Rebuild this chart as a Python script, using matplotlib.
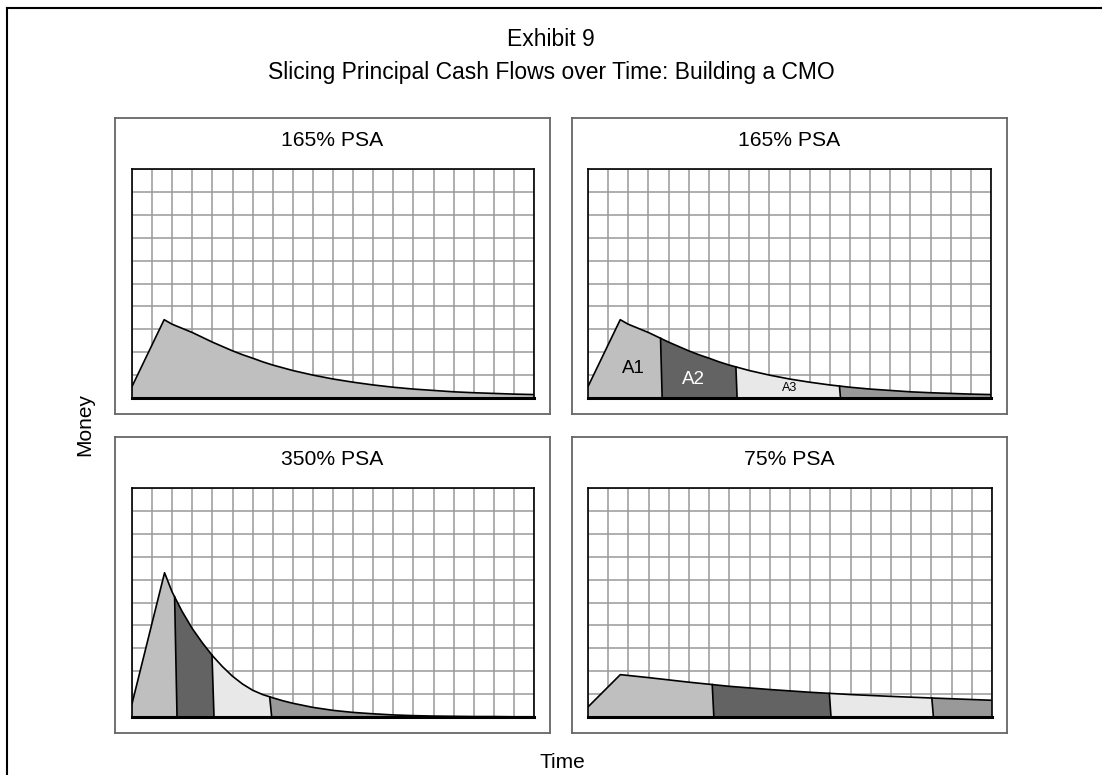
import numpy as np
import matplotlib.pyplot as plt
from matplotlib.patches import Polygon
from matplotlib.lines import Line2D

plt.rcParams['font.family'] = ['Liberation Sans', 'DejaVu Sans']

# principal cash flows (x = time, y = money)
x165 = [0, 1.6, 2, 2.5, 3, 3.5, 4, 4.5, 5, 5.5, 6, 6.5, 7, 7.5, 8, 9, 10, 11, 12, 13, 14, 15, 16, 17, 18, 19, 20]
y165 = [0.5, 3.42, 3.22, 3.04, 2.86, 2.65, 2.44, 2.25, 2.06, 1.89, 1.74, 1.58, 1.44, 1.32, 1.2, 1.0, 0.83, 0.69, 0.57, 0.47, 0.39, 0.33, 0.27, 0.23, 0.2, 0.17, 0.15]

x350 = [0, 1.62, 2, 2.5, 3, 3.5, 4, 4.5, 5, 5.5, 6, 6.5, 7, 7.5, 8, 9, 10, 11, 12, 13, 14, 15, 16, 17, 18, 19, 20]
y350 = [0.58, 6.3, 5.45, 4.6, 3.86, 3.24, 2.68, 2.2, 1.78, 1.44, 1.17, 0.98, 0.84, 0.71, 0.6, 0.42, 0.29, 0.2, 0.14, 0.09, 0.06, 0.04, 0.03, 0.02, 0.02, 0.01, 0.01]

x75 = [0, 1.6, 3, 5, 7, 9, 11, 13, 15, 17, 20]
y75 = [0.44, 1.85, 1.72, 1.52, 1.34, 1.2, 1.08, 0.98, 0.9, 0.83, 0.73]

# tranche cut points: (x at bottom, x at curve)
cuts165 = [(3.68, 3.6), (7.4, 7.34), (12.53, 12.48)]
cuts350 = [(2.24, 2.12), (4.08, 3.98), (6.95, 6.85)]
cuts75 = [(6.23, 6.15), (12.03, 11.95), (17.1, 17.02)]

tranche_colors = ['#bfbfbf', '#636363', '#e8e8e8', '#999999']
tranche_labels = ['A1', 'A2', 'A3']

W, H = 1102, 775
fig = plt.figure(figsize=(W / 100, H / 100), dpi=100)


def px_axes(l, t, r, b):
    return fig.add_axes([l / W, 1 - b / H, (r - l) / W, (b - t) / H])


def panel_box(l, t, r, b, title):
    bx = px_axes(l, t, r, b)
    bx.set_xticks([])
    bx.set_yticks([])
    for s in bx.spines.values():
        s.set_color('#666666')
        s.set_linewidth(1.3)
    fig.text((l + r) / 2 / W, 1 - (t + 23) / H, title, ha='center', va='center', fontsize=15.2)


def draw_flows(ax, x, y, cuts=None):
    ax.set_xlim(0, 20)
    ax.set_ylim(0, 10)
    ax.set_xticks(range(21))
    ax.set_yticks(range(11))
    ax.grid(True, color='#999999', lw=1.1)
    ax.set_axisbelow(True)
    ax.tick_params(length=0, labelbottom=False, labelleft=False)
    for s in ax.spines.values():
        s.set_linewidth(1.2)
    ax.spines['bottom'].set_linewidth(2.2)
    if cuts is None:
        ax.fill_between(x, y, color=tranche_colors[0], lw=0)
    else:
        edges = [(0, 0)] + cuts + [(20, 20)]
        for i in range(len(edges) - 1):
            c0, c1 = edges[i], edges[i + 1]
            top_x = [c0[1]] + [p for p in x if c0[1] < p < c1[1]] + [c1[1]]
            top_y = np.interp(top_x, x, y)
            verts = [(c0[0], 0)] + list(zip(top_x, top_y)) + [(c1[0], 0)]
            ax.add_patch(Polygon(verts, closed=True, fc=tranche_colors[i], ec='none'))
        for cb, ct in cuts:
            ax.plot([cb, ct], [0, np.interp(ct, x, y)], color='black', lw=1.2)
    ax.plot(x, y, color='black', lw=1.2)


panel_box(115, 118, 550, 414, '165% PSA')
panel_box(572, 118, 1007, 414, '165% PSA')
panel_box(115, 437, 550, 733, '350% PSA')
panel_box(572, 437, 1007, 733, '75% PSA')

ax1 = px_axes(132, 169, 534, 398)
draw_flows(ax1, x165, y165)

ax2 = px_axes(588, 169, 991, 398)
draw_flows(ax2, x165, y165, cuts165)
ax2.text(2.25, 1.28, tranche_labels[0], ha='center', va='center', fontsize=13.5)
ax2.text(5.25, 0.8, tranche_labels[1], ha='center', va='center', fontsize=13.5, color='white')
ax2.text(10.0, 0.45, tranche_labels[2], ha='center', va='center', fontsize=9)

ax3 = px_axes(132, 488, 534, 717)
draw_flows(ax3, x350, y350, cuts350)

ax4 = px_axes(588, 488, 992, 717)
draw_flows(ax4, x75, y75, cuts75)

fig.text(551 / W, 1 - 40 / H, 'Exhibit 9', ha='center', va='center', fontsize=16.5)
fig.text(551 / W, 1 - 73 / H, 'Slicing Principal Cash Flows over Time: Building a CMO',
         ha='center', va='center', fontsize=16.5)
fig.text(85 / W, 1 - 425 / H, 'Money', ha='center', va='center', rotation=90, fontsize=15)
fig.text(562 / W, 1 - 763 / H, 'Time', ha='center', va='center', fontsize=15)

# outer frame, left and top edges only
fig.add_artist(Line2D([7 / W, 7 / W], [0, 1 - 8 / H], color='black', lw=1.5, transform=fig.transFigure))
fig.add_artist(Line2D([7 / W, 1], [1 - 8 / H, 1 - 8 / H], color='black', lw=1.5, transform=fig.transFigure))

fig.savefig('out.png', dpi=100)
